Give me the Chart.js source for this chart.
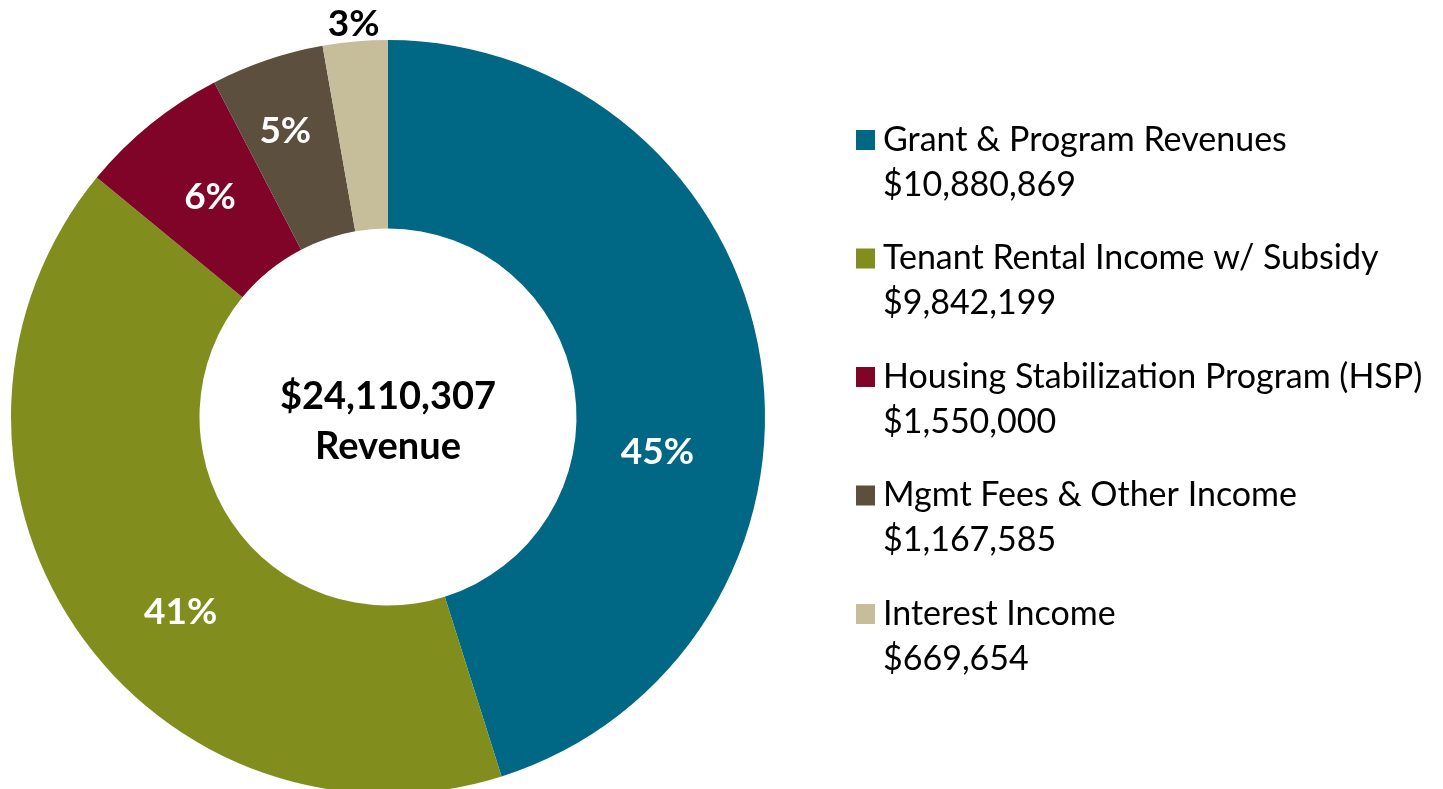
<!DOCTYPE html>
<html>
<head>
<meta charset="utf-8">
<script src="https://cdn.jsdelivr.net/npm/chart.js@4.4.1/dist/chart.umd.min.js"></script>
<style>
  html, body { margin: 0; padding: 0; background: #fff; overflow: hidden; }
  canvas { display: block; }
</style>
</head>
<body>
<canvas id="revenueChart" width="1443" height="800"></canvas>
<script>
// data
const categories = [
  'Grant & Program Revenues',
  'Tenant Rental Income w/ Subsidy',
  'Housing Stabilization Program (HSP)',
  'Mgmt Fees & Other Income',
  'Interest Income'
];
const revenue = [10880869, 9842199, 1550000, 1167585, 669654];
const sliceColors = ['#006784', '#818E1E', '#7F0428', '#5D4F3E', '#C6BE9A'];
const centerLines = ['$24,110,307', 'Revenue'];

const FONT = 'Lato, "Liberation Sans", sans-serif';

// Excel moved a few labels off the slice middle
const labelNudge = { 0: [-10, 78], 1: [27, 37], 3: [-12, -18] };

const fmtMoney = v => '$' + v.toLocaleString('en-US');

const sliceLabels = {
  id: 'sliceLabels',
  afterDatasetsDraw(chart) {
    const ctx = chart.ctx;
    const meta = chart.getDatasetMeta(0);
    const total = revenue.reduce((a, b) => a + b, 0);
    ctx.save();
    ctx.textAlign = 'center';
    ctx.textBaseline = 'middle';
    ctx.font = 'bold 37px ' + FONT;
    meta.data.forEach((arc, i) => {
      const pct = Math.round(revenue[i] / total * 100) + '%';
      const p = arc.getProps(['x', 'y', 'startAngle', 'endAngle', 'innerRadius', 'outerRadius'], true);
      const mid = (p.startAngle + p.endAngle) / 2;
      if (pct === '3%') {
        // small slice: label outside, above the ring
        const r = p.outerRadius + 17;
        ctx.fillStyle = '#000';
        ctx.fillText(pct, p.x + Math.cos(mid) * r, p.y + Math.sin(mid) * r);
        return;
      }
      const r = (p.innerRadius + p.outerRadius) / 2;
      const n = labelNudge[i] || [0, 0];
      ctx.fillStyle = '#fff';
      ctx.fillText(pct, p.x + Math.cos(mid) * r + n[0], p.y + Math.sin(mid) * r + n[1]);
    });

    // total in the hole
    const c = meta.data[0];
    ctx.fillStyle = '#000';
    ctx.font = 'bold 38px ' + FONT;
    ctx.fillText(centerLines[0], c.x, c.y - 20);
    ctx.fillText(centerLines[1], c.x, c.y + 30);
    ctx.restore();
  }
};

const sideLegend = {
  id: 'sideLegend',
  afterDraw(chart) {
    const ctx = chart.ctx;
    const left = 856, top = 140, step = 118.5;
    ctx.save();
    ctx.textAlign = 'left';
    ctx.textBaseline = 'middle';
    ctx.font = '34px ' + FONT;
    chart.data.labels.forEach((label, i) => {
      const y = top + i * step;
      ctx.fillStyle = sliceColors[i];
      ctx.fillRect(left, y - 10, 19, 20);
      ctx.fillStyle = '#000';
      ctx.fillText(label, left + 27, y);
      ctx.fillText(fmtMoney(revenue[i]), left + 27, y + 45);
    });
    ctx.restore();
  }
};

new Chart(document.getElementById('revenueChart'), {
  type: 'doughnut',
  data: {
    labels: categories,
    datasets: [{
      data: revenue,
      backgroundColor: sliceColors,
      borderWidth: 0
    }]
  },
  options: {
    responsive: false,
    animation: false,
    cutout: '50%',
    layout: { padding: { left: 11, top: 40, right: 678, bottom: 6 } },
    plugins: {
      legend: { display: false },
      tooltip: { enabled: false }
    }
  },
  plugins: [sliceLabels, sideLegend]
});
</script>
</body>
</html>
